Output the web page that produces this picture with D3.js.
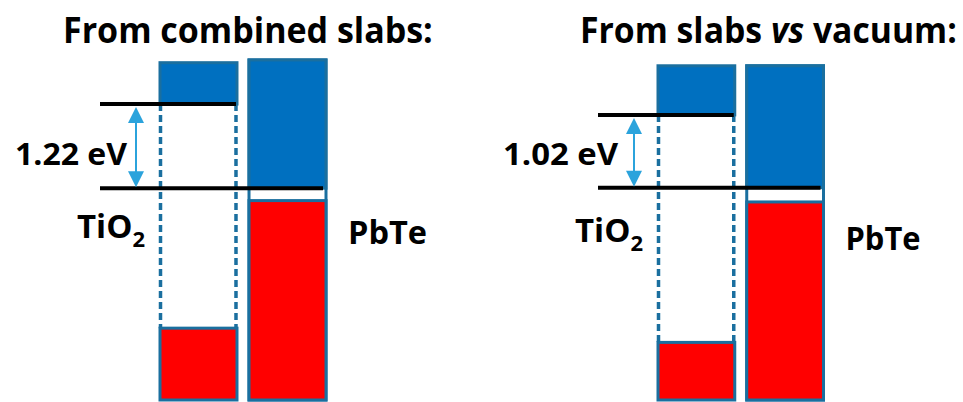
<!DOCTYPE html>
<html>
<head>
<meta charset="utf-8">
<script src="https://cdn.jsdelivr.net/npm/d3@7"></script>
<style>
  body { margin: 0; background: #fff; }
  text { font-family: "Open Sans", Lato, sans-serif; font-weight: bold; fill: #000; }
</style>
</head>
<body>
<div id="chart"></div>
<script>
// band edges in eV, relative to the PbTe conduction band minimum (= 0)
const titles = [["From combined slabs:"], ["From slabs ", "vs", " vacuum:"]];
const gapLabels = ["1.22 eV", "1.02 eV"];
const tio2CB = [1.22, 1.02];      // TiO2 CBM above PbTe CBM
const tio2Top = [1.82, 1.71];
const tio2VB = [-2.03, -2.17];
const pbteCB = [0, 0];
const pbteTop = [1.86, 1.71];
const pbteVB = [-0.18, -0.20];
const eMax = [1.859, 1.791];
const eMin = [-3.072, -2.978];

// layout
const W = 963, H = 402;
const boxX = [[160, 326], [658, 823.5]];
const titleX = [63, 580], titleW = [370, 377];
const arrowX = [136, 634];
const labelEnd = [127, 618];
const labelW = [112, 115];
const pbteW = [79, 75];

const blue = "#0070c0", red = "#ff0000", edge = "#1a6f9f", arrowCol = "#2ba3dc";

const svg = d3.select("#chart").append("svg")
    .attr("width", W)
    .attr("height", H);

// titles are squeezed horizontally with a transform to the measured width
titles.forEach((parts, i) => {
  const g = svg.append("g");
  const t = g.append("text")
      .attr("x", 0).attr("y", 0)
      .attr("font-size", 36);
  parts.forEach(p => {
    t.append("tspan").attr("font-style", p == "vs" ? "italic" : "normal").text(p);
  });
  const k = titleW[i] / t.node().getComputedTextLength();
  g.attr("transform", `translate(${titleX[i]},43) scale(${k},1)`);
});

for (let i = 0; i < 2; i++) {
  const g = svg.append("g");
  const y = d3.scaleLinear().domain([eMin[i], eMax[i]]).range([400, 60]);
  const x = d3.scaleBand().domain(["TiO2", "PbTe"]).range(boxX[i]).paddingInner(0.135);
  const bw = x.bandwidth();

  // PbTe column
  const px = x("PbTe");
  g.append("rect")
      .attr("x", px).attr("y", y(pbteTop[i]))
      .attr("width", bw).attr("height", y(eMin[i]) - y(pbteTop[i]))
      .attr("fill", "#fff").attr("stroke", edge).attr("stroke-width", 3);
  g.append("rect")
      .attr("x", px).attr("y", y(pbteTop[i]))
      .attr("width", bw).attr("height", y(pbteCB[i]) - y(pbteTop[i]))
      .attr("fill", blue).attr("stroke", edge).attr("stroke-width", 3);
  g.append("rect")
      .attr("x", px).attr("y", y(pbteVB[i]))
      .attr("width", bw).attr("height", y(eMin[i]) - y(pbteVB[i]))
      .attr("fill", red).attr("stroke", edge).attr("stroke-width", 3);

  // TiO2 column
  const tx = x("TiO2");
  g.append("rect")
      .attr("x", tx).attr("y", y(tio2Top[i]))
      .attr("width", bw).attr("height", y(tio2CB[i]) - y(tio2Top[i]))
      .attr("fill", blue).attr("stroke", edge).attr("stroke-width", 3);
  g.append("rect")
      .attr("x", tx).attr("y", y(tio2VB[i]))
      .attr("width", bw).attr("height", y(eMin[i]) - y(tio2VB[i]))
      .attr("fill", red).attr("stroke", edge).attr("stroke-width", 3);
  [tx + 0.5, tx + bw - 1].forEach(xx => {
    g.append("line")
        .attr("x1", xx).attr("x2", xx)
        .attr("y1", y(tio2CB[i])).attr("y2", y(tio2VB[i]))
        .attr("stroke", edge).attr("stroke-width", 3.5)
        .attr("stroke-dasharray", "7,4");
  });

  // band edge lines
  const lx = tx - 60;
  g.append("line")
      .attr("x1", lx).attr("x2", tx + bw - 1)
      .attr("y1", y(tio2CB[i])).attr("y2", y(tio2CB[i]))
      .attr("stroke", "#000").attr("stroke-width", 4);
  g.append("line")
      .attr("x1", lx).attr("x2", px + bw - 3)
      .attr("y1", y(pbteCB[i])).attr("y2", y(pbteCB[i]))
      .attr("stroke", "#000").attr("stroke-width", 4);

  // double arrow for the offset
  const ax = arrowX[i], top = y(tio2CB[i]) + 3, bot = y(pbteCB[i]) - 1;
  g.append("line")
      .attr("x1", ax).attr("x2", ax)
      .attr("y1", top + 10).attr("y2", bot - 10)
      .attr("stroke", arrowCol).attr("stroke-width", 2);
  g.append("path")
      .attr("d", `M${ax},${top}L${ax - 8},${top + 16}L${ax + 8},${top + 16}Z`)
      .attr("fill", arrowCol);
  g.append("path")
      .attr("d", `M${ax},${bot}L${ax - 8},${bot - 16}L${ax + 8},${bot - 16}Z`)
      .attr("fill", arrowCol);

  // labels
  g.append("text")
      .attr("x", labelEnd[i] - labelW[i]).attr("y", 165)
      .attr("font-size", 31)
      .attr("textLength", labelW[i])
      .attr("lengthAdjust", "spacingAndGlyphs")
      .text(gapLabels[i]);
  const tl = g.append("text")
      .attr("x", tx - 15).attr("y", 238 + i * 4)
      .attr("text-anchor", "end")
      .attr("font-size", 33);
  tl.append("tspan").text("TiO");
  tl.append("tspan").attr("font-size", 22).attr("dy", 9).text("2");
  g.append("text")
      .attr("x", px + bw + 22).attr("y", 244 + i * 6)
      .attr("font-size", 33)
      .attr("textLength", pbteW[i])
      .attr("lengthAdjust", "spacingAndGlyphs")
      .text("PbTe");
}
</script>
</body>
</html>
